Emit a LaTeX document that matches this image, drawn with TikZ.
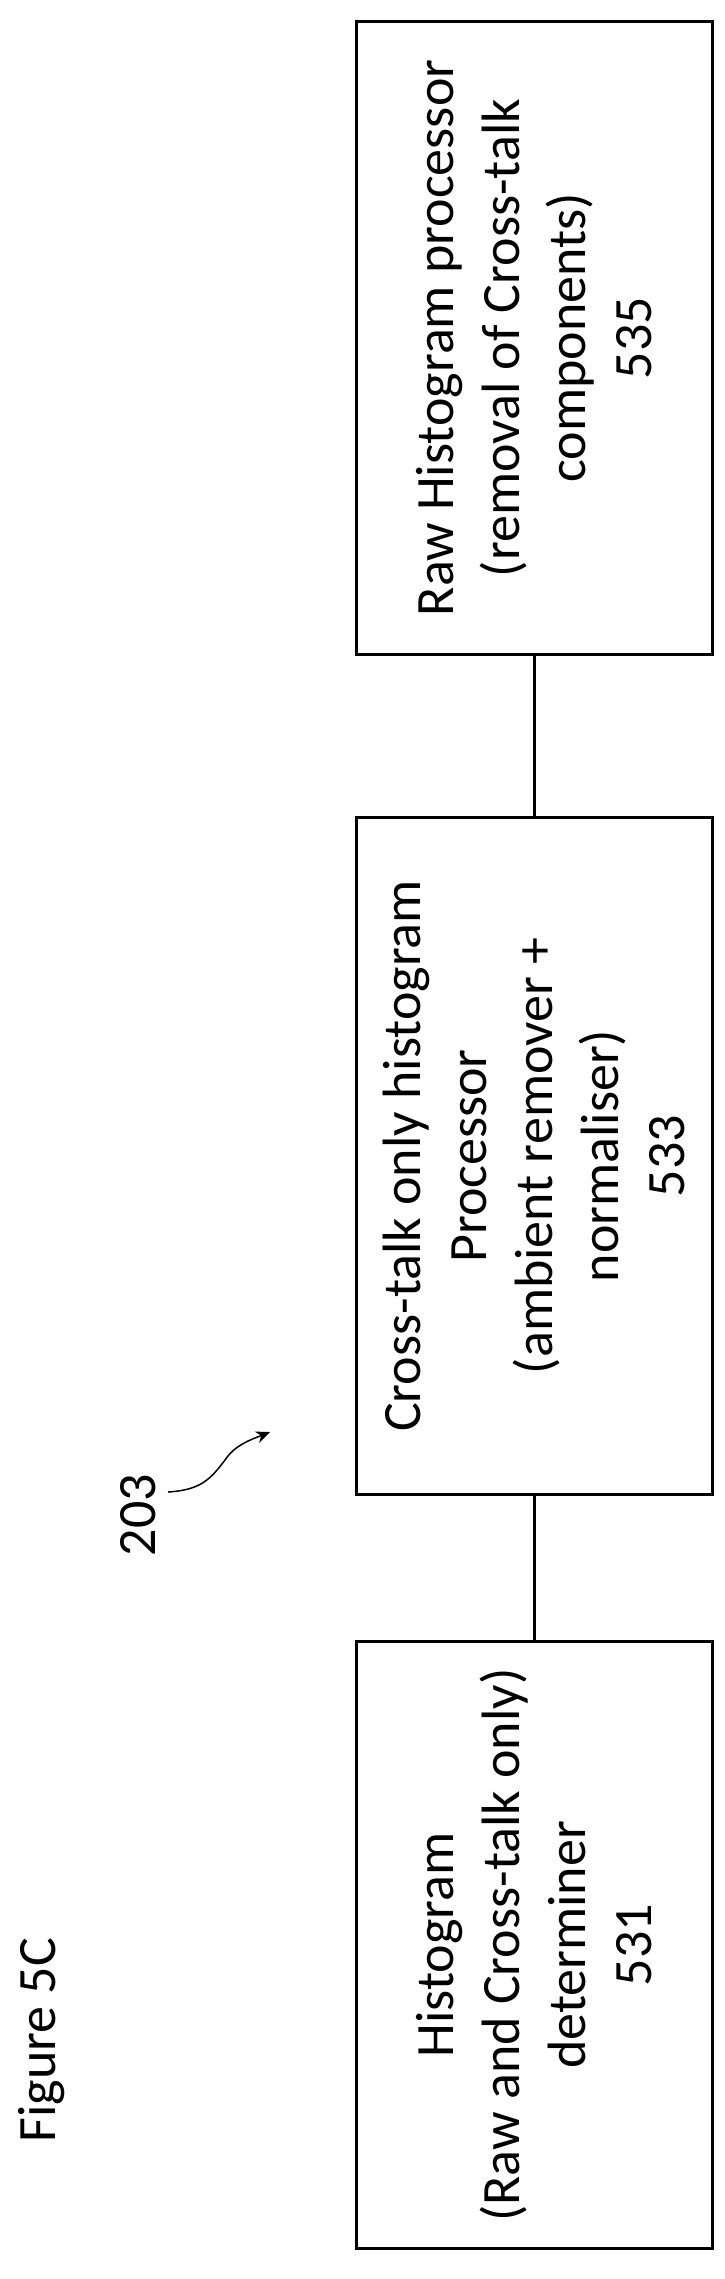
\documentclass[tikz,border=0pt]{standalone}
\usepackage{fontspec}
\setmainfont{Carlito}
\usetikzlibrary{arrows.meta}
\tikzset{procbox/.style={draw,line width=3,rotate=90,minimum height=356,align=center,font=\fontsize{54}{66}\selectfont,inner sep=0}}
\begin{document}
\begin{tikzpicture}[x=1pt,y=-1pt]
\useasboundingbox (0,0) rectangle (725,2279);

%Boxes
\node[procbox,minimum width=607] (det) at (534,1945) {Histogram\\(Raw and Cross-talk only)\\determiner\\531};
\node[procbox,minimum width=677] (xproc) at (534,1156) {Cross-talk only histogram\\Processor\\(ambient remover +\\normaliser)\\533};
\node[procbox,minimum width=633] (rawproc) at (534,338) {Raw Histogram processor\\(removal of Cross-talk\\components)\\535};

%Connectors
\draw[line width=3] (det.east) -- (xproc.west);
\draw[line width=3] (xproc.east) -- (rawproc.west);

%Labels
\node[rotate=90,font=\fontsize{54}{66}\selectfont] (fig) at (42,2040) {Figure 5C};
\node[rotate=90,font=\fontsize{54}{66}\selectfont] (ref) at (138,1515) {203};
\coordinate (reftip) at (270,1432);
\draw[line width=1.5,-{Stealth[length=14,width=12]}] (168,1492) .. controls (200,1490) and (210,1480) .. (225,1460) .. controls (235,1445) and (250,1440) .. (reftip);
\end{tikzpicture}
\end{document}
